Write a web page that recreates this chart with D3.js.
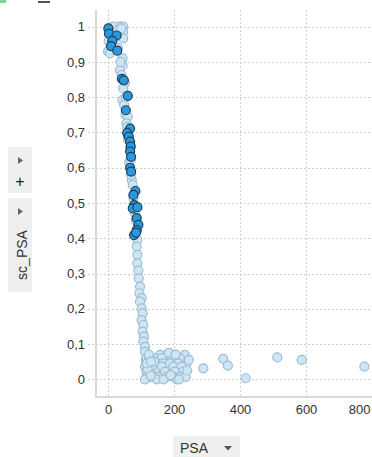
<!DOCTYPE html>
<html><head><meta charset="utf-8">
<script src="https://cdn.jsdelivr.net/npm/d3@7"></script>
<style>
html,body{margin:0;padding:0;background:#fff;}
svg{display:block;font-family:"Liberation Sans",Arial,sans-serif;}
</style></head>
<body>
<svg id="c" width="372" height="457"></svg>
<script>
// ---- data ----
const xTicks = [0, 200, 400, 600, 800];
const yTicks = [0, 0.1, 0.2, 0.3, 0.4, 0.5, 0.6, 0.7, 0.8, 0.9, 1];
const xLabel = "PSA";
const yLabel = "sc_PSA";

// light (unselected) points: PSA
const lightPSA = [36, 46, 46, 16, 46, 30, 40, 0, 6, 44, 44, 36, 41, 51, 46, 44, 49, 53, 60, 56, 58, 62,
  66, 64, 69, 72, 75, 77, 82, 84, 89, 87, 89, 89, 92, 93, 97, 95, 102, 97, 102, 105, 102, 107, 105, 109,
  107, 112, 112, 114, 117, 122, 20, 10, 2, 30, 38, 54, 60, 70,
  158, 178, 233, 117, 142, 163, 193, 218, 122, 148, 168, 188, 213, 238, 112, 137, 163, 198, 223,
  117, 142, 173, 203, 228, 117, 132, 152, 178, 198, 218, 236, 112, 148, 168, 208, 128, 135, 140,
  120, 125, 130, 118, 124, 245, 240, 185, 205, 130, 215, 190,
  289, 349, 363, 417, 513, 587, 777];
const lightSC = [1.0, 1.0, 0.985, 1.0, 0.967, 0.99, 0.995, 0.93, 0.925, 0.91, 0.89, 0.877, 0.863, 0.84, 0.825, 0.792, 0.778, 0.75, 0.745, 0.726, 0.715, 0.69,
  0.655, 0.615, 0.622, 0.565, 0.551, 0.513, 0.471, 0.45, 0.395, 0.376, 0.353, 0.329, 0.308, 0.286, 0.263, 0.244, 0.23, 0.22, 0.201, 0.187, 0.168, 0.154, 0.135, 0.121,
  0.107, 0.092, 0.078, 0.055, 0.036, 0.007, 0.97, 0.955, 0.96, 0.94, 0.9, 0.8, 0.68, 0.58,
  0.069, 0.069, 0.069, 0.06, 0.06, 0.06, 0.06, 0.06, 0.045, 0.045, 0.045, 0.045, 0.045, 0.045, 0.036, 0.036, 0.036, 0.036, 0.036,
  0.022, 0.022, 0.022, 0.022, 0.022, 0.007, 0.007, 0.007, 0.007, 0.007, 0.007, 0.007, 0.0, 0.0, 0.0, 0.0, 0.02, 0.04, 0.05,
  0.03, 0.06, 0.01, 0.045, 0.07, 0.055, 0.025, 0.075, 0.07, 0.05, 0.0, 0.012,
  0.031, 0.058, 0.039, 0.003, 0.062, 0.055, 0.036];

// dark (selected) points
const darkPSA = [1, 3, 26, 13, 9, 28, 42, 48, 60, 54, 67, 58, 63, 67, 69, 67, 70, 67, 70, 83, 77, 79, 75, 89, 87, 92, 87, 79, 85];
const darkSC = [0.995, 0.98, 0.975, 0.96, 0.945, 0.932, 0.852, 0.848, 0.804, 0.763, 0.711, 0.699, 0.688, 0.674, 0.66, 0.646, 0.631, 0.6, 0.589, 0.534, 0.523, 0.494, 0.485, 0.488, 0.457, 0.438, 0.423, 0.409, 0.416];

// ---- drawing ----
const svg = d3.select("#c");
const x = d3.scaleLinear().domain([-36.4, 800]).range([96, 372]);
const y = d3.scaleLinear().domain([-0.0502, 1.0473]).range([397, 10]);
const loc = d3.formatLocale({decimal: ",", thousands: ".", grouping: [3], currency: ["", ""]});
const fy = loc.format("~g");

// top-left fragments
svg.append("rect").attr("x", 0).attr("y", 0).attr("width", 6).attr("height", 3).attr("fill", "#7fd39a");
svg.append("rect").attr("x", 38).attr("y", 1).attr("width", 12).attr("height", 2).attr("fill", "#555");

// grid
const grid = svg.append("g").attr("stroke", "#cfcfcf").attr("stroke-dasharray", "2,2").attr("stroke-width", 1);
grid.selectAll("line.h").data(yTicks).join("line")
  .attr("x1", 88).attr("x2", 372)
  .attr("y1", d => Math.round(y(d)) + 0.5).attr("y2", d => Math.round(y(d)) + 0.5);
grid.selectAll("line.v").data(xTicks.slice(0, 4)).join("line")
  .attr("x1", d => Math.round(x(d)) + 0.5).attr("x2", d => Math.round(x(d)) + 0.5)
  .attr("y1", 10).attr("y2", 397);

// axis lines
svg.append("line").attr("x1", 96).attr("x2", 96).attr("y1", 10).attr("y2", 398).attr("stroke", "#d9d9d9").attr("stroke-width", 2);
svg.append("line").attr("x1", 95).attr("x2", 372).attr("y1", 397).attr("y2", 397).attr("stroke", "#d9d9d9").attr("stroke-width", 2);

// y axis labels
const ya = svg.append("g").attr("transform", "translate(96,0)")
  .call(d3.axisLeft(y).tickValues(yTicks).tickFormat(fy).tickSize(0).tickPadding(11));
ya.select(".domain").remove();
ya.selectAll("text").attr("fill", "#333").attr("font-size", 13).attr("font-family", "Liberation Sans, Arial, sans-serif");

// x axis labels
const xa = svg.append("g").attr("transform", "translate(0,397)")
  .call(d3.axisBottom(x).tickValues(xTicks).tickFormat(d3.format("d")).tickSize(0).tickPadding(8));
xa.select(".domain").remove();
xa.selectAll("text").attr("fill", "#333").attr("font-size", 13).attr("font-family", "Liberation Sans, Arial, sans-serif");
xa.selectAll(".tick").filter(d => d === 800).select("text").attr("text-anchor", "end").attr("dx", -2);

// points
const lightData = lightPSA.map((v, i) => ({x: v, y: lightSC[i]}));
const darkData = darkPSA.map((v, i) => ({x: v, y: darkSC[i]}));
svg.append("g").selectAll("circle").data(lightData).join("circle")
  .attr("cx", d => x(d.x)).attr("cy", d => y(d.y)).attr("r", 4.5)
  .attr("fill", "#cde6f6").attr("stroke", "#9fbccf").attr("stroke-width", 1.2);
svg.append("g").selectAll("circle").data(darkData).join("circle")
  .attr("cx", d => x(d.x)).attr("cy", d => y(d.y)).attr("r", 4.5)
  .attr("fill", "#2b98dc").attr("stroke", "#1c3f5c").attr("stroke-width", 1.2);

// left controls
svg.append("rect").attr("x", 8).attr("y", 147).attr("width", 24).attr("height", 46).attr("fill", "#efefef");
svg.append("path").attr("d", "M18,157 L23,160.5 L18,164 Z").attr("fill", "#666");
svg.append("text").attr("x", 20).attr("y", 187).attr("text-anchor", "middle").attr("font-size", 16).attr("fill", "#222").text("+");
svg.append("rect").attr("x", 8).attr("y", 198).attr("width", 24).attr("height", 94).attr("fill", "#efefef");
svg.append("path").attr("d", "M18,208 L23,211.5 L18,215 Z").attr("fill", "#666");
svg.append("text").attr("transform", "translate(26.5,255) rotate(-90)").attr("text-anchor", "middle")
  .attr("font-size", 14).attr("fill", "#333").text(yLabel);

// bottom control
svg.append("rect").attr("x", 173).attr("y", 436).attr("width", 67).attr("height", 21).attr("fill", "#efefef");
svg.append("text").attr("x", 180).attr("y", 453).attr("font-size", 14).attr("fill", "#333").text(xLabel);
svg.append("path").attr("d", "M224,446 L232,446 L228,450.5 Z").attr("fill", "#555");
</script>
</body></html>
